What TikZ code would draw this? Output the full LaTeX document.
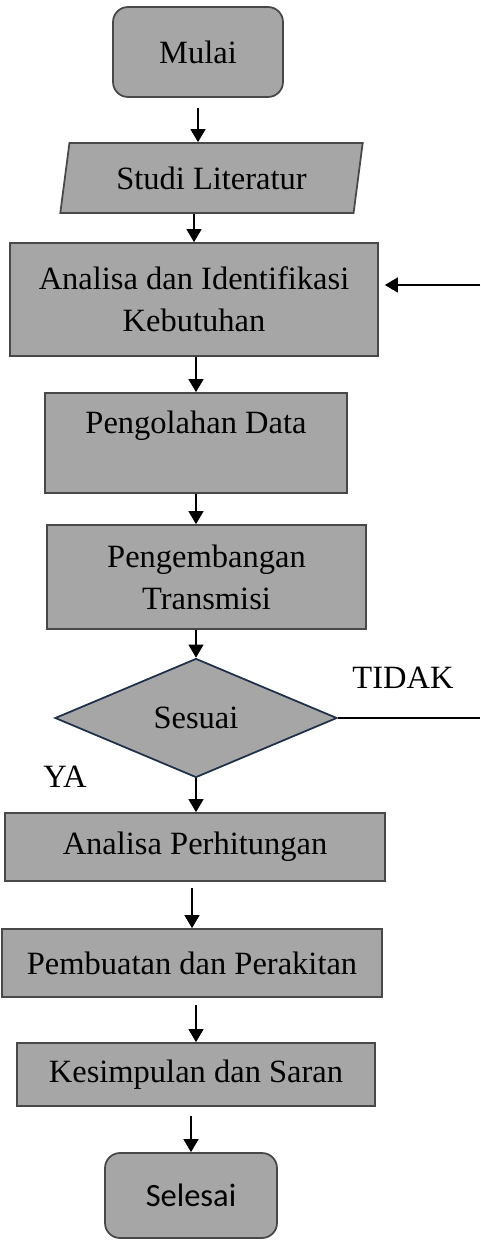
\documentclass[tikz,border=0pt]{standalone}
\usepackage{fontspec}
\setmainfont{Liberation Serif}
\newfontfamily\carlito{Carlito}
\usepackage{tikz}
\usetikzlibrary{shapes.geometric,arrows.meta}
\definecolor{boxfill}{RGB}{166,166,166}
\definecolor{boxline}{RGB}{72,72,72}
\definecolor{navy}{RGB}{32,48,72}

\begin{document}
\begin{tikzpicture}[x=0.02cm,y=-0.02cm,
    txt/.style={font=\fontsize{18.5}{24}\selectfont,align=center,inner sep=0pt},
    proc/.style={txt,rectangle,draw=boxline,fill=boxfill,line width=1pt},
    term/.style={proc,rounded corners=0.3cm},
    io/.style={proc,trapezium,trapezium left angle=75,trapezium right angle=105,trapezium stretches=true},
    decide/.style={txt,diamond,draw=navy,fill=boxfill,line width=1pt},
    arr/.style={-{Triangle[width=0.3cm,length=0.26cm]},line width=0.7pt}]
   \useasboundingbox (0,0) rectangle (480,1240);

   \node[term,minimum width=3.4cm,minimum height=1.8cm] (mulai) at (198,52) {Mulai};
   \node[io,minimum width=6.06cm,minimum height=1.4cm] (studi) at (211.5,178) {Studi Literatur};
   \node[proc,minimum width=7.36cm,minimum height=2.26cm] (analisa) at (194,299.5) {Analisa dan Identifikasi\\Kebutuhan};
   \node[proc,minimum width=6.04cm,minimum height=2cm] (olah) at (196,443) {Pengolahan Data\\\mbox{}};
   \node[proc,minimum width=6.38cm,minimum height=2.08cm] (kembang) at (206.5,577) {Pengembangan\\Transmisi};
   \node[decide,minimum width=5.64cm,minimum height=2.38cm] (sesuai) at (196,718) {Sesuai};
   \node[proc,minimum width=7.6cm,minimum height=1.36cm] (hitung) at (195,847) {Analisa Perhitungan};
   \node[proc,minimum width=7.6cm,minimum height=1.36cm] (rakit) at (192,963) {Pembuatan dan Perakitan};
   \node[proc,minimum width=7.16cm,minimum height=1.26cm] (simpul) at (196,1074.5) {Kesimpulan dan Saran};
   \node[term,minimum width=3.44cm,minimum height=1.7cm,font=\carlito\fontsize{18.5}{24}\selectfont] (selesai) at (191,1195.5) {Selesai};

   \node[txt] (tidak) at (403,678) {TIDAK};
   \node[txt] (ya) at (65,777) {YA};
   \coordinate (tidakend) at (480,718);
   \coordinate (balik) at (480,285);

   % alur utama
   \draw[arr,shorten <=0.2cm] (mulai.south) -- (mulai.south |- studi.north);
   \draw[arr] (analisa.north |- studi.south) -- (analisa.north);
   \draw[arr] (olah.north |- analisa.south) -- (olah.north);
   \draw[arr] (olah.south) -- (olah.south |- kembang.north);
   \draw[arr] (sesuai.north |- kembang.south) -- (sesuai.north);
   \draw[arr] (sesuai.south) -- (sesuai.south |- hitung.north);
   \draw[arr,shorten <=0.12cm] (rakit.north |- hitung.south) -- (rakit.north);
   \draw[arr,shorten <=0.14cm] (simpul.north |- rakit.south) -- (simpul.north);
   \draw[arr,shorten <=0.18cm] (selesai.north |- simpul.south) -- (selesai.north);

   % kembali
   \draw[line width=0.7pt] (sesuai.east) -- (tidakend);
   \draw[arr,shorten >=0.12cm] (balik) -- (balik -| analisa.east);

  \end{tikzpicture}
\end{document}
